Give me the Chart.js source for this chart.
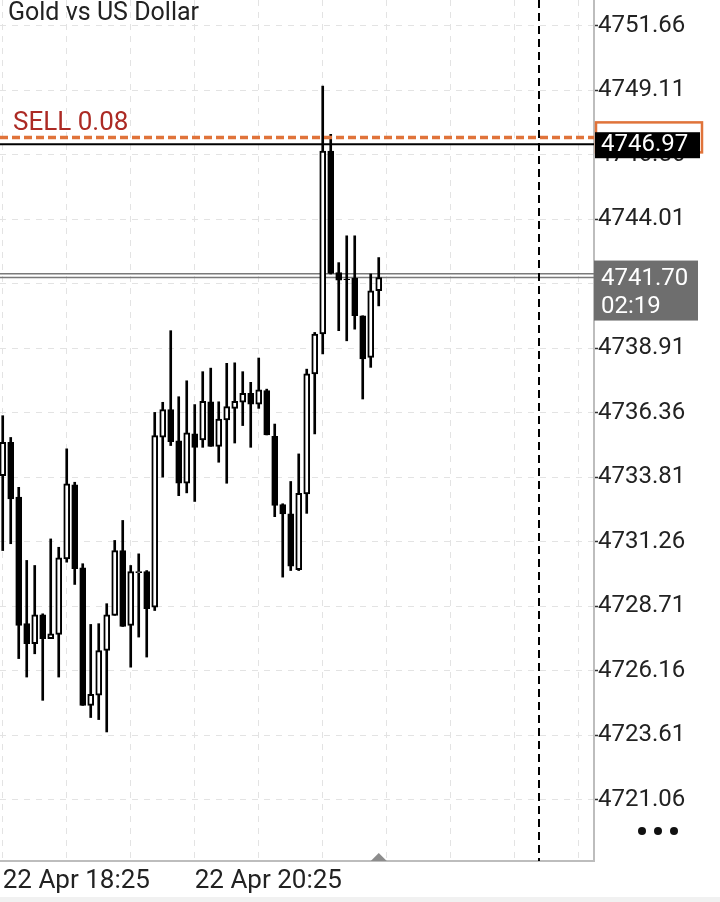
<!DOCTYPE html>
<html>
<head>
<meta charset="utf-8">
<title>Gold vs US Dollar</title>
<script src="https://cdn.jsdelivr.net/npm/chart.js@4.4.1/dist/chart.umd.min.js"></script>
<style>
  html, body { margin: 0; padding: 0; background: #fff; }
  canvas { display: block; }
</style>
</head>
<body>
<canvas id="chart" width="720" height="902"></canvas>
<script>
// M5 candles, 22 Apr 18:25 onwards
const opens = [
  4733.87, 4735.19, 4733.02, 4728.02, 4727.23, 4728.37, 4727.43, 4727.60,
  4730.58, 4733.51, 4730.23, 4724.79, 4725.19, 4726.96, 4728.35, 4730.91,
  4727.95, 4730.04, 4730.08, 4728.67, 4735.39, 4736.48, 4735.25, 4733.57,
  4735.52, 4735.28, 4736.79, 4735.03, 4736.07, 4736.53, 4736.77, 4737.12,
  4736.70, 4737.23, 4735.42, 4732.73, 4732.36, 4730.15, 4733.15, 4737.89,
  4739.47, 4746.70, 4741.90, 4741.64, 4741.68, 4740.19, 4738.54, 4741.18
];
const highs = [
  4736.24, 4735.38, 4733.41, 4730.52, 4730.32, 4728.41, 4731.37, 4731.04,
  4734.93, 4733.61, 4730.39, 4727.99, 4728.02, 4728.81, 4731.31, 4732.10,
  4730.32, 4730.78, 4730.12, 4736.37, 4736.77, 4739.60, 4736.99, 4737.62,
  4736.68, 4737.98, 4738.12, 4736.79, 4738.31, 4738.33, 4737.98, 4737.56,
  4738.52, 4737.29, 4735.91, 4732.76, 4733.64, 4734.73, 4738.08, 4739.53,
  4749.27, 4747.36, 4742.29, 4743.35, 4743.35, 4740.19, 4741.84, 4742.49
];
const lows = [
  4730.91, 4731.18, 4726.64, 4725.91, 4726.83, 4724.99, 4727.43, 4725.91,
  4730.45, 4729.57, 4724.79, 4724.31, 4724.23, 4723.74, 4728.35, 4727.91,
  4726.30, 4727.49, 4726.70, 4728.54, 4733.81, 4735.06, 4733.08, 4733.19,
  4732.85, 4734.99, 4735.03, 4734.40, 4733.57, 4735.16, 4735.85, 4734.99,
  4736.53, 4735.48, 4732.25, 4729.86, 4730.12, 4730.12, 4732.38, 4735.52,
  4738.68, 4741.84, 4739.60, 4739.20, 4739.66, 4736.90, 4738.15, 4740.58
];
const closes = [
  4735.19, 4732.95, 4727.95, 4727.23, 4728.37, 4727.43, 4727.62, 4730.62,
  4733.55, 4730.19, 4724.79, 4725.23, 4726.96, 4728.37, 4730.91, 4727.91,
  4730.08, 4730.08, 4728.61, 4735.45, 4736.48, 4735.21, 4733.57, 4735.56,
  4734.99, 4736.81, 4735.03, 4736.11, 4736.60, 4736.81, 4737.12, 4736.70,
  4737.26, 4735.48, 4732.69, 4732.36, 4730.29, 4733.17, 4737.89, 4739.47,
  4746.70, 4741.86, 4741.60, 4741.62, 4740.19, 4738.48, 4741.18, 4741.70
];

const yTicks = [4721.06, 4723.61, 4726.16, 4728.71, 4731.26, 4733.81, 4736.36,
                4738.91, 4741.46, 4744.01, 4746.56, 4749.11, 4751.66];
const xGrid = [0, 8, 16, 24, 32, 40, 48, 56, 64, 72];
const xLabels = { 0: '22 Apr 18:25', 24: '22 Apr 20:25' };

const sellPrice = 4747.24;
const sellLabel = 'SELL 0.08';
const markPrice = 4746.97;
const askPrice = 4741.85;
const bidPrice = 4741.70;
const timeLeft = '02:19';
const separatorIdx = 67;
const title = 'Gold vs US Dollar';

const FONT = 'Roboto';

const overlay = {
  id: 'overlay',
  beforeDraw(chart) {
    const ctx = chart.ctx;
    ctx.save();
    ctx.fillStyle = '#fff';
    ctx.fillRect(0, 0, chart.width, chart.height);
    ctx.fillStyle = '#f1f1f1';
    ctx.fillRect(0, 897, chart.width, 5);
    ctx.restore();
  },
  beforeDatasetsDraw(chart) {
    const { ctx, chartArea: a, scales: { y } } = chart;
    ctx.save();
    ctx.strokeStyle = '#7a7a7a';
    ctx.lineWidth = 1.5;
    [askPrice, bidPrice].forEach(p => {
      const py = y.getPixelForValue(p);
      ctx.beginPath();
      ctx.moveTo(a.left, py);
      ctx.lineTo(a.right, py);
      ctx.stroke();
    });
    ctx.restore();
  },
  afterDatasetsDraw(chart) {
    const { ctx, chartArea: a, scales: { x, y } } = chart;
    ctx.save();
    // period separator
    const sx = Math.round(x.getPixelForValue(separatorIdx));
    ctx.strokeStyle = '#000';
    ctx.lineWidth = 2;
    ctx.setLineDash([8, 5]);
    ctx.beginPath();
    ctx.moveTo(sx, a.top);
    ctx.lineTo(sx, a.bottom);
    ctx.stroke();

    // sell order line
    const sy = y.getPixelForValue(sellPrice);
    ctx.strokeStyle = '#e0733a';
    ctx.lineWidth = 3.5;
    ctx.setLineDash([8, 4]);
    ctx.beginPath();
    ctx.moveTo(a.left, sy);
    ctx.lineTo(a.right, sy);
    ctx.stroke();

    // price line
    const my = y.getPixelForValue(markPrice);
    ctx.setLineDash([]);
    ctx.strokeStyle = '#000';
    ctx.lineWidth = 2;
    ctx.beginPath();
    ctx.moveTo(a.left, my);
    ctx.lineTo(a.right, my);
    ctx.stroke();

    ctx.fillStyle = '#ac2a24';
    ctx.font = '26px ' + FONT;
    ctx.textBaseline = 'alphabetic';
    ctx.textAlign = 'left';
    ctx.fillText(sellLabel, 13, sy - 7);
    ctx.restore();
  },
  afterDraw(chart) {
    const { ctx, chartArea: a, scales: { x, y } } = chart;
    ctx.save();
    ctx.font = '24px ' + FONT;
    ctx.textBaseline = 'middle';
    ctx.textAlign = 'left';

    // sell order tag (behind)
    const sy = y.getPixelForValue(sellPrice);
    ctx.fillStyle = '#fff';
    ctx.fillRect(596, sy - 15, 106, 30);
    ctx.strokeStyle = '#e0733a';
    ctx.lineWidth = 2.5;
    ctx.strokeRect(596, sy - 15, 106, 30);

    // price tag
    const my = y.getPixelForValue(markPrice);
    ctx.fillStyle = '#000';
    ctx.fillRect(595, my - 12, 105, 26);
    ctx.fillStyle = '#fff';
    ctx.fillText(markPrice.toFixed(2), 601, my + 1);

    // bid tag with countdown
    const by = y.getPixelForValue(bidPrice);
    ctx.fillStyle = '#6e6e6e';
    ctx.fillRect(594, by - 17, 104, 60);
    ctx.fillStyle = '#fff';
    ctx.fillText(bidPrice.toFixed(2), 601, by + 1);
    ctx.fillText(timeLeft, 601, by + 29);

    // title
    ctx.fillStyle = '#222';
    ctx.font = '25px ' + FONT;
    ctx.fillText(title, 8, 14);

    // last bar marker
    const tx = x.getPixelForValue(opens.length - 1);
    ctx.fillStyle = '#8c8c8c';
    ctx.beginPath();
    ctx.moveTo(tx - 8, a.bottom);
    ctx.lineTo(tx, a.bottom - 8);
    ctx.lineTo(tx + 8, a.bottom);
    ctx.closePath();
    ctx.fill();

    // menu dots
    ctx.fillStyle = '#111';
    [642, 658, 674].forEach(dx => {
      ctx.beginPath();
      ctx.arc(dx, 831, 4, 0, Math.PI * 2);
      ctx.fill();
    });
    ctx.restore();
  }
};

const bodies = opens.map((o, i) => ({ x: i, y: [o, closes[i]] }));
const wicks = lows.map((l, i) => ({ x: i, y: [l, highs[i]] }));
const bodyColors = opens.map((o, i) => closes[i] >= o ? '#fff' : '#000');

new Chart(document.getElementById('chart'), {
  type: 'bar',
  data: {
    datasets: [
      {
        label: 'body',
        data: bodies,
        backgroundColor: bodyColors,
        borderColor: '#000',
        borderWidth: 2,
        borderSkipped: false,
        barThickness: 6,
        grouped: false
      },
      {
        label: 'wick',
        data: wicks,
        backgroundColor: '#000',
        borderWidth: 0,
        barThickness: 2,
        grouped: false
      }
    ]
  },
  options: {
    responsive: false,
    animation: false,
    events: [],
    layout: { padding: 0 },
    plugins: {
      legend: { display: false },
      tooltip: { enabled: false }
    },
    scales: {
      x: {
        type: 'linear',
        min: -0.34,
        max: 73.91,
        offset: false,
        grid: {
          offset: false,
          color: '#e3e3e3',
          drawTicks: false
        },
        border: { color: '#bdbdbd', width: 2, dash: [6, 6] },
        ticks: {
          autoSkip: false,
          maxRotation: 0,
          align: 'start',
          padding: 5,
          color: '#222',
          font: { family: FONT, size: 26 },
          callback: v => xLabels[v] || ''
        },
        afterBuildTicks: s => { s.ticks = xGrid.map(v => ({ value: v })); },
        afterFit: s => {
          s.height = 41;
          s.paddingLeft = 0;
          s.paddingRight = 0;
        }
      },
      y: {
        type: 'linear',
        position: 'right',
        min: 4718.64,
        max: 4752.67,
        beginAtZero: false,
        grid: {
          color: '#e3e3e3',
          tickLength: 4,
          tickColor: '#333',
          tickWidth: 1.5
        },
        border: { color: '#bdbdbd', width: 2, dash: [6, 6] },
        ticks: {
          padding: 0,
          color: '#222',
          font: { family: FONT, size: 24 },
          callback: v => Number(v).toFixed(2)
        },
        afterBuildTicks: s => { s.ticks = yTicks.map(v => ({ value: v })); },
        afterFit: s => {
          s.width = 126;
          s.paddingTop = 0;
          s.paddingBottom = 0;
        }
      }
    }
  },
  plugins: [overlay]
});
</script>
</body>
</html>
